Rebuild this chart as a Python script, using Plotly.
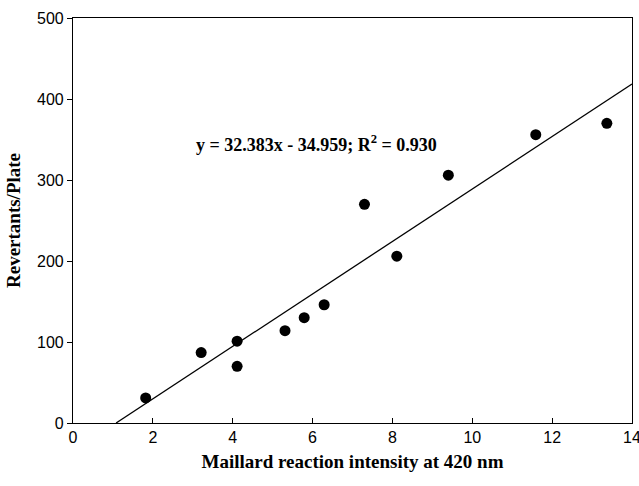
import plotly.graph_objects as go

# Data
intensity = [1.82, 3.21, 4.11, 4.11, 5.31, 5.79, 6.29, 7.30, 8.11, 9.40, 11.59, 13.37]
revertants = [31, 87, 101, 70, 114, 130, 146, 270, 206, 306, 356, 370]

slope = 32.383
intercept = -34.959
fit_x = [-intercept / slope, 14]
fit_y = [slope * x + intercept for x in fit_x]

x_ticks = [0, 2, 4, 6, 8, 10, 12, 14]
y_ticks = [0, 100, 200, 300, 400, 500]

fig = go.Figure()
fig.add_trace(go.Scatter(x=fit_x, y=fit_y, mode="lines",
                         line=dict(color="black", width=1.3), showlegend=False))
fig.add_trace(go.Scatter(x=intensity, y=revertants, mode="markers",
                         marker=dict(color="black", size=11), showlegend=False))

fig.add_annotation(x=6.1, y=345, xref="x", yref="y",
                   text="y = 32.383x - 34.959; R<sup>2</sup> = 0.930",
                   showarrow=False,
                   font=dict(family="Liberation Serif", size=18, color="black", weight="bold"))

axis_common = dict(showgrid=False, zeroline=False, showline=True, linecolor="black",
                   linewidth=1.2, mirror=True, ticklen=5, tickcolor="black",
                   ticklabeloverflow="allow",
                   tickfont=dict(family="Liberation Sans", size=16, color="black"))

fig.update_xaxes(range=[0, 14], tickvals=x_ticks, ticks="inside", automargin="height",
                 title=dict(text="Maillard reaction intensity at 420 nm", standoff=9,
                            font=dict(family="Liberation Serif", size=19, color="black", weight="bold")),
                 **axis_common)
fig.update_yaxes(range=[0, 500], tickvals=y_ticks, ticks="outside", automargin="width",
                 title=dict(text="Revertants/Plate", standoff=11,
                            font=dict(family="Liberation Serif", size=19, color="black", weight="bold")),
                 **axis_common)

fig.update_layout(width=639, height=486, paper_bgcolor="white", plot_bgcolor="white",
                  margin=dict(l=73, r=7, t=18, b=63))

# Remove the browser's default body margin so the figure fills the window.
fig.write_html("out.html", config={"displayModeBar": False},
               post_script="document.body.style.margin='0';document.body.style.overflow='hidden';")
